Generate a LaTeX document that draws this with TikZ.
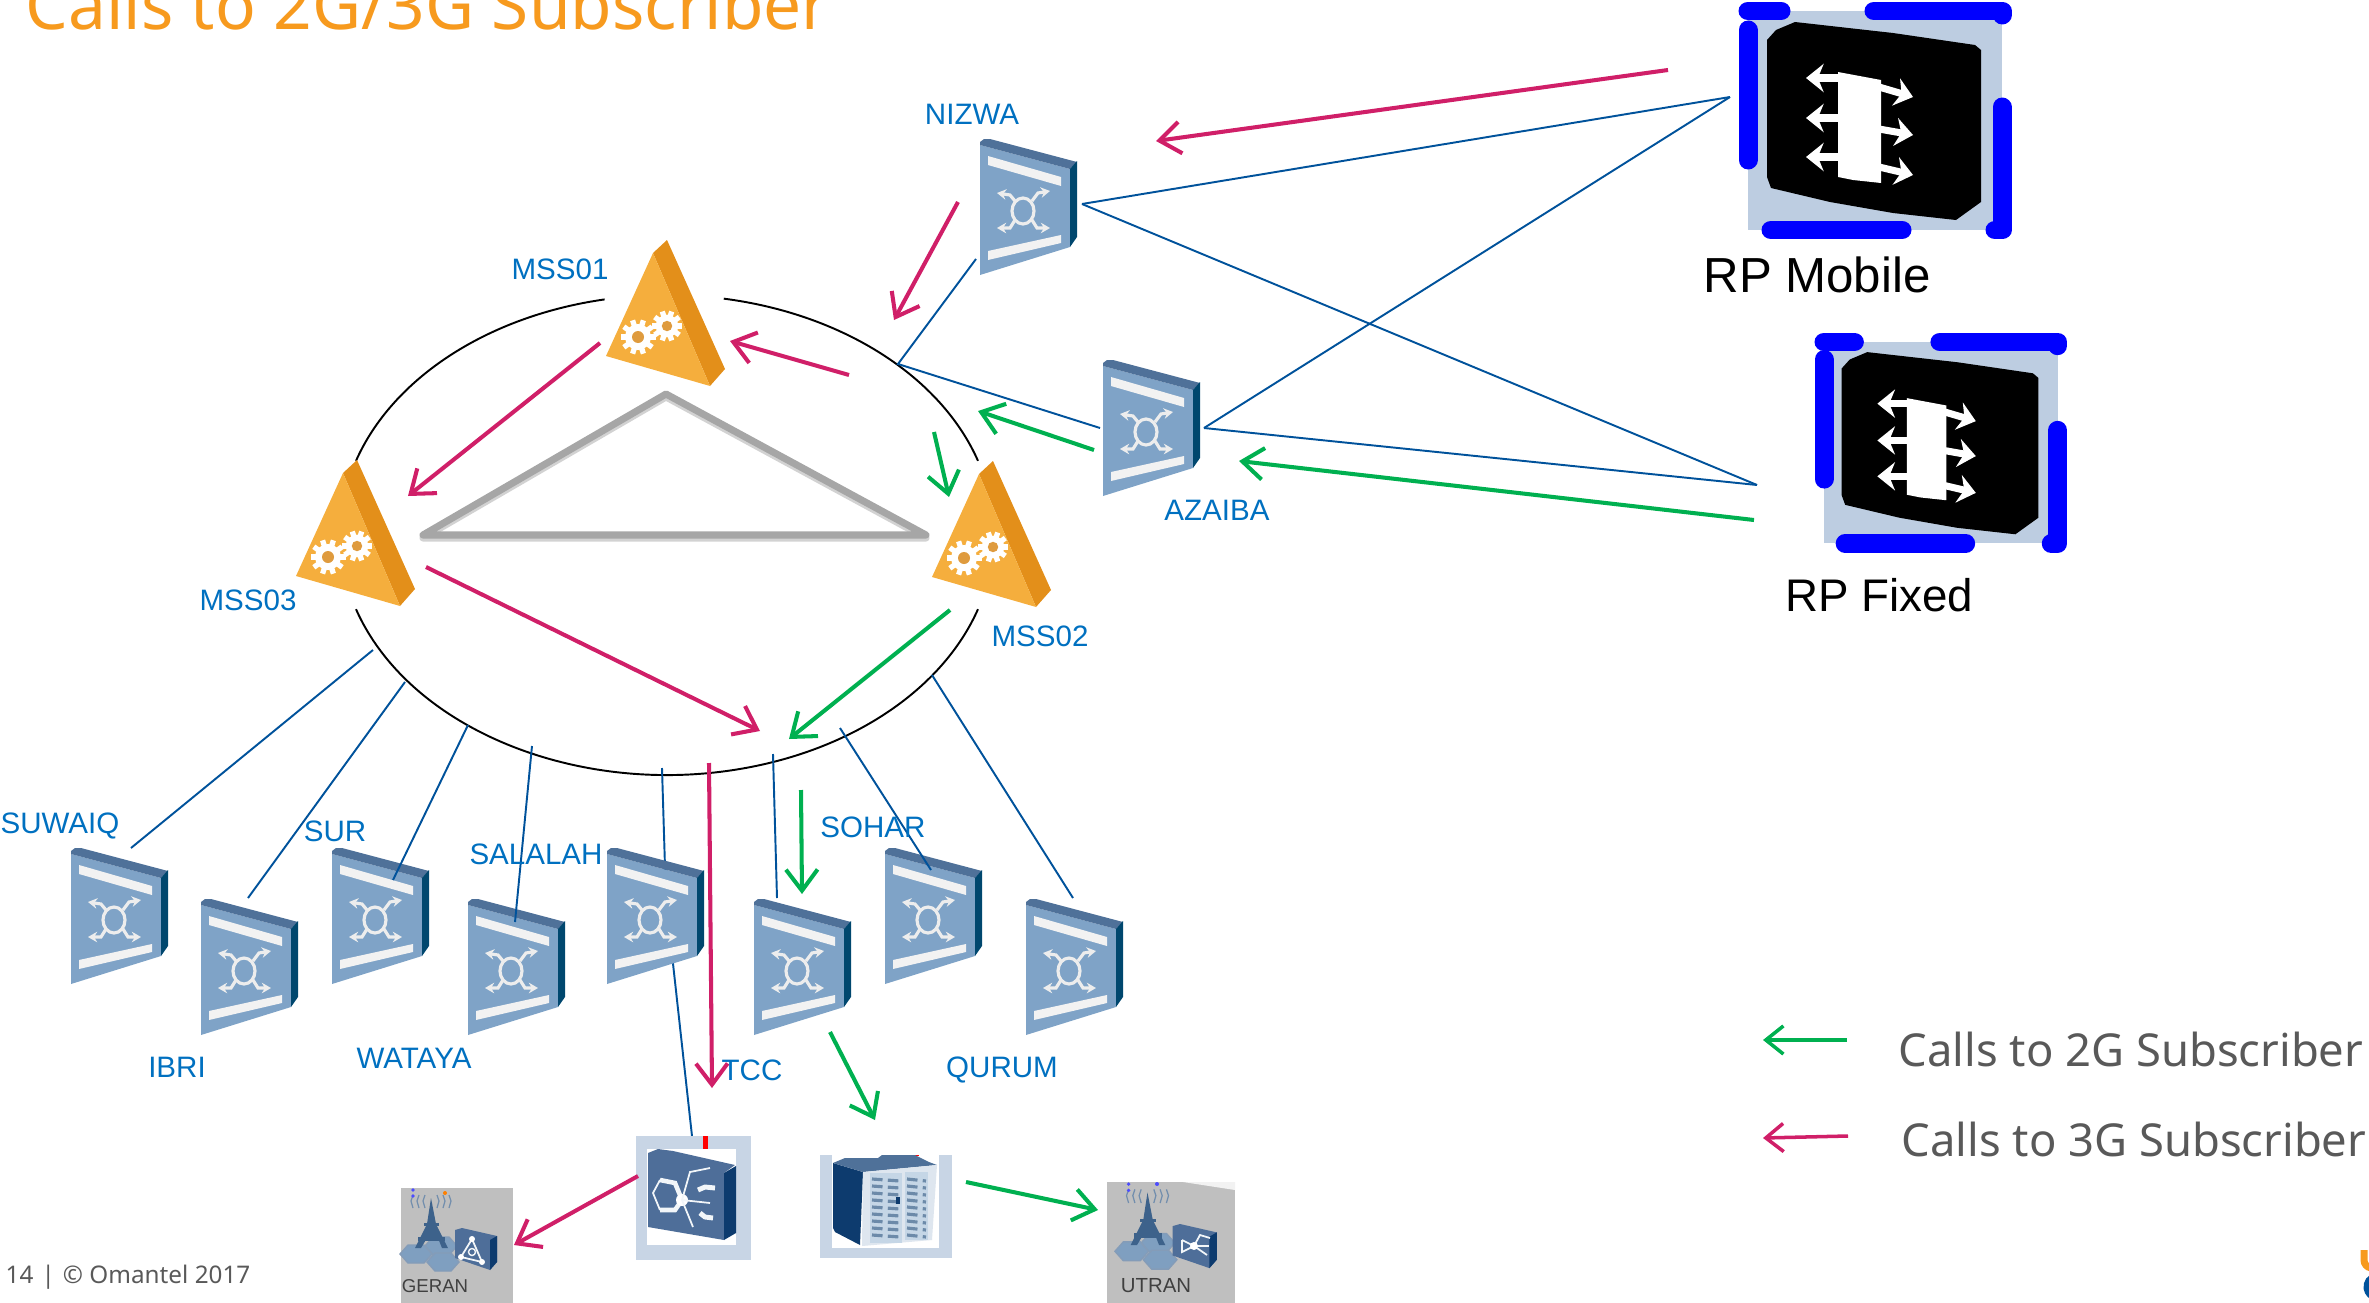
\documentclass[tikz,border=0pt]{standalone}
\usepackage{fontspec}
\setmainfont{Liberation Sans}
\newfontfamily\thfont{Noto Sans}
\usetikzlibrary{arrows.meta}
\definecolor{lblue}{HTML}{0070C0}
\definecolor{lnk}{HTML}{00529B}
\definecolor{pk}{HTML}{D01F68}
\definecolor{gr}{HTML}{00B050}
\definecolor{org}{HTML}{F79A1E}
\definecolor{txt}{HTML}{595959}
\definecolor{swf}{HTML}{7FA3C7}
\definecolor{swt}{HTML}{4F7199}
\definecolor{sws}{HTML}{00476E}
\definecolor{trif}{HTML}{F5AE3D}
\definecolor{tris}{HTML}{E38F1A}
\definecolor{boxc}{HTML}{C8D5E5}
\definecolor{rpc}{HTML}{BDCDE1}
\definecolor{navy}{HTML}{0D3B6E}
\definecolor{dev}{HTML}{4E6E99}

\begin{document}
\begin{tikzpicture}[x=0.01cm,y=-0.01cm,
    lab/.style={font=\fontsize{8.4}{10}\selectfont, text=lblue, inner sep=0pt},
    rplab/.style={font=\fontsize{14}{16}\selectfont, inner sep=0pt},
    leg/.style={font=\thfont\fontsize{12.9}{15}\selectfont, text=txt, inner sep=0pt},
    link/.style={lnk, line width=0.55pt},
    ring/.style={black, line width=0.55pt},
    pa/.style={pk, line width=1.15pt, -{Straight Barb[length=6pt,width=9pt]}},
    ga/.style={gr, line width=1.15pt, -{Straight Barb[length=6pt,width=9pt]}},
    mk/.style={white!93!black, line width=0.9pt},
    mkt/.style={mk, -{Stealth[length=2.6pt,width=3pt]}},
    wl/.style={white!90!swf, line width=#1},
    bl/.style={blue, line width=5.4pt, line cap=round, line join=round},
    sw/.pic={
        \fill[swf] (0,6) -- (90,30) -- (90,108) -- (0,136) -- cycle;
        \fill[swt] (0,6) -- (0,3) -- (4,0) -- (10,0) -- (97,23) -- (90,30) -- cycle;
        \fill[sws] (90,30) -- (97,22) -- (97,98) -- (90,108) -- cycle;
        \fill[white!95!black] (8,17) -- (81,38) -- (81,47) -- (8,26) -- cycle;
        \fill[white!95!black] (8,112) -- (81,96) -- (81,104) -- (8,121) -- cycle;
        \draw[mk] (43,72) ellipse [x radius=11, y radius=13];
        \draw[mkt] (35,62) -- (30,56) -- (17,54);
        \draw[mkt] (52,62) -- (58,54) -- (70,52);
        \draw[mkt] (35,81) -- (30,89) -- (17,89);
        \draw[mkt] (52,81) -- (57,89) -- (70,89);
    },
    cog/.pic={
        \foreach \a in {0,36,...,324} \draw[white, line width=1.5pt] (\a:10) -- (\a:17.5);
        \fill[white] (0,0) circle [radius=13];
        \fill[trif!60!brown] (0,0) circle [radius=6];
    },
    mss/.pic={
        \fill[tris] (0,0) -- (58,129) -- (43,146) -- (-14,13) -- cycle;
        \fill[trif] (-14,13) -- (43,146) -- (-61,116) -- cycle;
        \pic at (-29,97) {cog};
        \pic[scale=0.87] at (0,86) {cog};
    },
    rp/.pic={
        \fill[rpc] (0,0) rectangle (254,219);
        \fill[black] (19,29) -- (28,19) -- (47,11) -- (145,22) -- (227,34) -- (233,39) -- (233,191)
            -- (208,209) -- (145,202) -- (82,191) -- (23,177) -- (19,166) -- cycle;
        \fill[white] (90,61) -- (133,69) -- (133,172) -- (105,169) -- (90,166) -- cycle;
        \foreach \y in {67,107,146} \draw[white, line width=2pt, -{Stealth[length=5pt,width=8pt]}] (92,\y) -- (58,\y);
        \foreach \y/\t in {76/86,118/124,156/164} \draw[white, line width=2pt, -{Stealth[length=5pt,width=8pt]}] (131,\y) -- (165,\t);
        \draw[bl] (0,0) -- (33,0);
        \draw[bl] (126,0) -- (254,0) -- (254,4);
        \draw[bl] (0,19) -- (0,149);
        \draw[bl] (254,96) -- (254,219) -- (247,219);
        \draw[bl] (23,219) -- (154,219);
    },
    radio/.pic={
        \foreach \a/\b in {40/58,15/66,42/74} \draw[fill=swf!90!gray, draw=swt!70!white, line width=0.4pt]
            (\a-16,\b) -- (\a-8,\b-9) -- (\a+8,\b-9) -- (\a+16,\b) -- (\a+8,\b+9) -- (\a-8,\b+9) -- cycle;
        \fill[navy!80!white] (30,10) -- (26,36) -- (14,60) -- (20,60) -- (26,50) -- (37,50) -- (41,60) -- (47,60) -- (35,36) -- cycle;
        \fill[navy!80!white] (17,49) rectangle (44,53);
        \fill[navy!80!white] (23,35) rectangle (38,38);
        \foreach \r in {6,12,18} {
            \draw[swt!80!white, line width=0.35pt] (30-\r,7) -- (30-\r-2,13) -- (30-\r,20);
            \draw[swt!80!white, line width=0.35pt] (30+\r,7) -- (30+\r+2,13) -- (30+\r,20);
        }
        \fill[blue!70!white] (12,2) circle [radius=1.8];
        \fill[blue!70!white] (12,8) circle [radius=1.8];
        \fill[dev] (54,42) -- (61,40) -- (96,48) -- (96,74) -- (89,82) -- (54,70) -- cycle;
        \fill[navy] (89,52) -- (96,48) -- (96,74) -- (89,82) -- cycle;
    }]
    \path[use as bounding box] (0,0) rectangle (2369,1303);

    %ring round the three MSS, cut where they stand
    \coordinate (c) at (667,535);
    \draw[ring] (c) ++(-101:327 and 240) arc [start angle=-101, end angle=-162, x radius=327, y radius=240];
    \draw[ring] (c) ++(-80:327 and 240) arc [start angle=-80, end angle=-18, x radius=327, y radius=240];
    \draw[ring] (c) ++(162:327 and 240) arc [start angle=162, end angle=18, x radius=327, y radius=240];

    %grey triangle in the middle
    \draw[gray!35, line width=2pt, line join=round, shift={(0,3)}] (666,394) -- (423,535) -- (926,535) -- cycle;
    \draw[gray!70, line width=2pt, line join=round] (666,394) -- (423,535) -- (926,535) -- cycle;

    %this link goes behind its switch
    \coordinate (rs) at (662,768);
    \coordinate (rncT) at (692,1136);
    \draw[link] (rs) -- (666,900) -- (rncT);

    \pic at (980,139) {sw};
    \pic at (1103,360) {sw};
    \pic at (71,848) {sw};
    \pic at (201,899) {sw};
    \pic at (332,848) {sw};
    \pic at (468,899) {sw};
    \pic at (607,848) {sw};
    \pic at (754,899) {sw};
    \pic at (885,848) {sw};
    \pic at (1026,899) {sw};

    \pic at (667,240) {mss};
    \pic at (357,460) {mss};
    \pic at (993,461) {mss};

    \pic at (1748,11) {rp};
    \pic[scale=0.92] at (1824,342) {rp};

    %boxes at the bottom
    \fill[boxc] (636,1136) rectangle (751,1260);
    \fill[white] (647,1149) rectangle (736,1245);
    \fill[red] (703,1136) rectangle (708,1149);
    \fill[dev] (648,1153) -- (658,1149) -- (673,1151) -- (735,1165) -- (724,1173) -- (724,1240) -- (648,1227) -- cycle;
    \fill[navy] (724,1173) -- (736,1166) -- (736,1233) -- (724,1240) -- cycle;
    \draw[wl=0.5pt] (660,1180) -- (653,1193) -- (660,1210);
    \draw[wl=1.3pt] (660,1180) -- (675,1183) -- (682,1200) -- (675,1210) -- (660,1210);
    \fill[white] (682,1200) circle [radius=6];
    \draw[wl=0.5pt] (682,1200) -- (690,1172) -- (710,1168);
    \draw[wl=0.5pt] (682,1200) -- (710,1203);
    \draw[wl=0.5pt] (682,1200) -- (693,1227);
    \draw[wl=1.4pt] (698,1190) -- (705,1187) -- (715,1188);
    \draw[wl=1.4pt] (700,1213) -- (705,1217) -- (713,1218);

    \fill[boxc] (820,1155) rectangle (952,1258);
    \fill[white] (832,1155) rectangle (939,1248);
    \fill[red] (914,1155) rectangle (919,1156);
    \fill[navy] (833,1163) -- (863,1172) -- (860,1245) -- (835,1232) -- (833,1228) -- cycle;
    \fill[swt] (833,1163) -- (845,1158) -- (878,1158) -- (882,1155) -- (915,1155) -- (929,1162) -- (937,1165) -- (863,1172) -- cycle;
    \fill[boxc!60!white] (863,1172) -- (937,1165) -- (932,1240) -- (862,1246) -- cycle;
    \fill[swf!45!white] (870,1173) rectangle (902,1243);
    \fill[swf!45!white] (905,1172) rectangle (928,1240);
    \foreach \y in {1179,1186,...,1237} {
        \draw[swf!85!black, line width=0.9pt, dash pattern=on 3pt off 1.5pt] (872,\y) -- (900,\y+2);
        \draw[swf!85!black, line width=0.9pt, dash pattern=on 3pt off 1.5pt] (907,\y) -- (926,\y+2);
    }
    \draw[navy, line width=0.9pt] (898,1197) -- (898,1204);

    \fill[gray!50] (401,1188) rectangle (513,1303);
    \pic at (401,1188) {radio};
    \fill[orange] (445,1193) circle [radius=2];
    \draw[wl=0.5pt] (472,1239) -- (461,1257) -- (482,1262) -- cycle;
    \foreach \a/\b in {472/1239,461/1257,482/1262} \fill[white] (\a,\b) circle [radius=3];
    \draw[wl=0.4pt] (472,1252) circle [radius=3.5];
    \node[font=\fontsize{5.3}{6}\selectfont, text=black!75, inner sep=0pt] (geranlab) at (435,1286) {GERAN};

    \fill[gray!50] (1107,1182) rectangle (1235,1303);
    \fill[white!90!gray] (1183,1182) -- (1235,1182) -- (1235,1190) -- cycle;
    \pic[scale=1.05] at (1116,1182) {radio};
    \fill[blue!70!white] (1157,1184) circle [radius=2];
    \draw[wl=0.5pt] (1182,1240) -- (1194,1246) -- (1200,1235) -- (1210,1238);
    \draw[wl=0.5pt] (1182,1240) -- (1182,1252) -- (1194,1246) -- (1207,1255);
    \draw[wl=0.5pt] (1194,1246) -- (1209,1246);
    \fill[white] (1194,1246) circle [radius=4];
    \node[font=\fontsize{5.8}{7}\selectfont, text=black!75, inner sep=0pt] (utranlab) at (1156,1286) {UTRAN};

    \coordinate (nizE) at (1082,204);
    \coordinate (nizS) at (976,259);
    \coordinate (azaW) at (1100,428);
    \coordinate (azaE) at (1204,428);
    \coordinate (ha) at (898,364);
    \coordinate (hm) at (1730,97);
    \coordinate (hf) at (1757,485);
    \draw[link] (nizE) -- (hm);
    \draw[link] (nizE) -- (hf);
    \draw[link] (azaE) -- (hm);
    \draw[link] (azaE) -- (hf);
    \draw[link] (nizS) -- (ha) -- (azaW);

    \coordinate (r1) at (373,650);
    \coordinate (s1) at (131,848);
    \coordinate (r2) at (405,682);
    \coordinate (s2) at (248,898);
    \coordinate (r3) at (468,725);
    \coordinate (s3) at (393,880);
    \coordinate (r4) at (532,746);
    \coordinate (s4) at (515,922);
    \coordinate (r5) at (773,754);
    \coordinate (s5) at (777,898);
    \coordinate (r6) at (840,728);
    \coordinate (s6) at (931,870);
    \coordinate (r7) at (932,675);
    \coordinate (s7) at (1073,898);
    \draw[link] (r1) -- (s1);
    \draw[link] (r2) -- (s2);
    \draw[link] (r3) -- (s3);
    \draw[link] (r4) -- (s4);
    \draw[link] (r5) -- (s5);
    \draw[link] (r6) -- (s6);
    \draw[link] (r7) -- (s7);

    %3G calls
    \coordinate (p1) at (1668,70);
    \coordinate (p2) at (1156,141);
    \coordinate (p3) at (958,202);
    \coordinate (p4) at (894,320);
    \coordinate (p5) at (849,375);
    \coordinate (p6) at (730,341);
    \coordinate (p7) at (600,343);
    \coordinate (p8) at (408,496);
    \coordinate (p9) at (426,567);
    \coordinate (p10) at (760,731);
    \coordinate (p11) at (709,763);
    \coordinate (p12) at (712,1088);
    \coordinate (p13) at (638,1176);
    \coordinate (p14) at (514,1245);
    \draw[pa] (p1) -- (p2);
    \draw[pa] (p3) -- (p4);
    \draw[pa] (p5) -- (p6);
    \draw[pa] (p7) -- (p8);
    \draw[pa] (p9) -- (p10);
    \draw[pa] (p11) -- (p12);
    \draw[pa] (p13) -- (p14);

    %2G calls
    \coordinate (g1) at (1754,520);
    \coordinate (g2) at (1239,461);
    \coordinate (g3) at (1094,450);
    \coordinate (g4) at (978,411);
    \coordinate (g5) at (934,432);
    \coordinate (g6) at (949,497);
    \coordinate (g7) at (950,610);
    \coordinate (g8) at (789,739);
    \coordinate (g9) at (801,790);
    \coordinate (g10) at (802,894);
    \coordinate (g11) at (830,1032);
    \coordinate (g12) at (875,1120);
    \coordinate (g13) at (966,1182);
    \coordinate (g14) at (1098,1210);
    \draw[ga] (g1) -- (g2);
    \draw[ga] (g3) -- (g4);
    \draw[ga] (g5) -- (g6);
    \draw[ga] (g7) -- (g8);
    \draw[ga] (g9) -- (g10);
    \draw[ga] (g11) -- (g12);
    \draw[ga] (g13) -- (g14);

    \node[lab] (nizwa) at (972,114) {NIZWA};
    \node[lab] (azaiba) at (1217,510) {AZAIBA};
    \node[lab] (mss01) at (560,269) {MSS01};
    \node[lab] (mss03) at (248,600) {MSS03};
    \node[lab] (mss02) at (1040,636) {MSS02};
    \node[lab] (suwaiq) at (60,826) {SUWAIQ};
    \node[lab] (ibri) at (177,1067) {IBRI};
    \node[lab] (sur) at (335,831) {SUR};
    \node[lab] (wataya) at (414,1058) {WATAYA};
    \node[lab] (salalah) at (536,854) {SALALAH};
    \node[lab] (tcc) at (752,1070) {TCC};
    \node[lab] (sohar) at (873,827) {SOHAR};
    \node[lab] (qurum) at (1002,1070) {QURUM};

    \node[rplab] (rpm) at (1817,275) {RP Mobile};
    \node[rplab, font=\fontsize{13}{15}\selectfont] (rpf) at (1879,595) {RP Fixed};

    \node[font=\thfont\fontsize{19.2}{22}\selectfont, text=org, inner sep=0pt, anchor=base west] (title) at (25,30) {Calls to 2G/3G Subscriber};
    \node[leg] (leg2) at (2131,1049) {Calls to 2G Subscriber};
    \node[leg] (leg3) at (2134,1139) {Calls to 3G Subscriber};
    \coordinate (l1) at (1847,1040);
    \coordinate (l2) at (1763,1040);
    \coordinate (l3) at (1848,1136);
    \coordinate (l4) at (1763,1138);
    \draw[gr, line width=1pt, -{Straight Barb[length=5pt,width=8pt]}] (l1) -- (l2);
    \draw[pk, line width=1pt, -{Straight Barb[length=5pt,width=8pt]}] (l3) -- (l4);

    \node[font=\thfont\fontsize{6.9}{8}\selectfont, text=txt, inner sep=0pt, anchor=west] (foot) at (5,1277) {14\,\,|\,\,© Omantel 2017};

    %piece of the logo at the page edge
    \draw[org, line width=2pt] (2364,1250) -- (2364,1260) arc [start angle=180, end angle=100, radius=8];
    \draw[lnk, line width=2.4pt] (2376,1277) arc [start angle=-100, end angle=-260, radius=10];
\end{tikzpicture}
\end{document}
